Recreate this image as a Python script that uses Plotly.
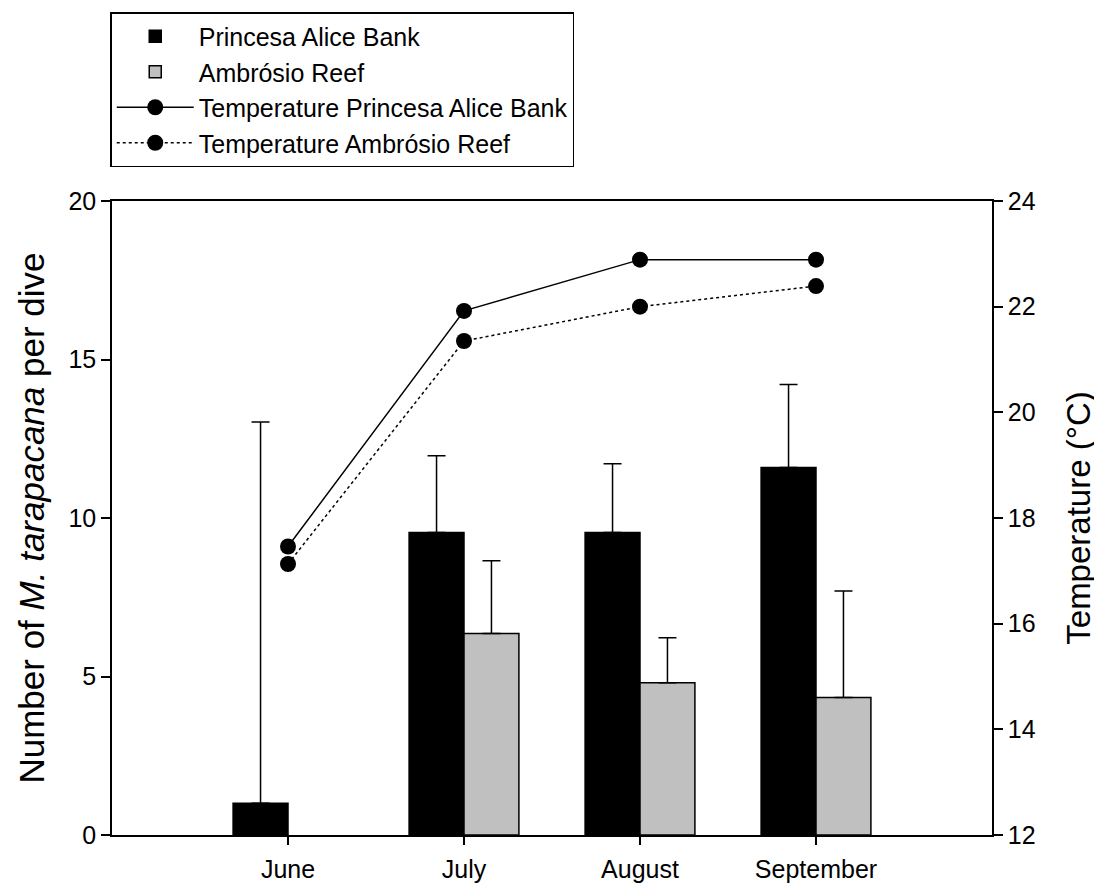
import plotly.graph_objects as go

months = ["June", "July", "August", "September"]

princesa_mean = [1.0, 9.54, 9.54, 11.59]
princesa_se = [12.03, 2.42, 2.17, 2.62]
ambrosio_mean = [None, 6.36, 4.80, 4.34]
ambrosio_se = [None, 2.29, 1.42, 3.36]

temp_princesa = [17.46, 21.92, 22.89, 22.89]
temp_ambrosio = [17.13, 21.35, 22.00, 22.39]

FONT = "Liberation Sans, Arial, sans-serif"

fig = go.Figure()

fig.add_trace(go.Bar(
    x=months, y=princesa_mean, name="Princesa Alice Bank",
    marker=dict(color="black", line=dict(color="black", width=1.5)),
    error_y=dict(type="data", array=princesa_se, arrayminus=[0]*4, symmetric=False,
                 color="black", thickness=1.5, width=9),
))
fig.add_trace(go.Bar(
    x=months, y=ambrosio_mean, name="Ambrósio Reef",
    marker=dict(color="#c0c0c0", line=dict(color="black", width=1.5)),
    error_y=dict(type="data", array=ambrosio_se, arrayminus=[0]*4, symmetric=False,
                 color="black", thickness=1.5, width=9),
))
fig.add_trace(go.Scatter(
    x=months, y=temp_princesa, name="Temperature Princesa Alice Bank", yaxis="y2",
    mode="lines+markers", line=dict(color="black", width=1.5),
    marker=dict(color="black", size=16),
))
fig.add_trace(go.Scatter(
    x=months, y=temp_ambrosio, name="Temperature Ambrósio Reef", yaxis="y2",
    mode="lines+markers", line=dict(color="black", width=1.5, dash="dot"),
    marker=dict(color="black", size=16),
))

W, H = 1094, 879
fig.update_layout(
    width=W, height=H,
    margin=dict(l=104, r=110, t=193, b=52, autoexpand=False),
    paper_bgcolor="white", plot_bgcolor="white",
    font=dict(family=FONT, size=25, color="black"),
    barmode="group", bargap=0.376, bargroupgap=0,
    showlegend=True,
    legend=dict(
        x=-0.002, y=1 - 4 / H, xref="paper", yref="container", xanchor="left", yanchor="top",
        bordercolor="black", borderwidth=1.5, bgcolor="white",
        font=dict(family=FONT, size=25, color="black"),
        traceorder="normal", itemwidth=77,
    ),
    xaxis=dict(
        type="category", range=[-1, 4], showline=True, linecolor="black", linewidth=1.5,
        mirror=True, ticks="outside", ticklen=8, tickwidth=1.5, tickcolor="black",
        showgrid=False, zeroline=False, tickfont=dict(size=25), ticklabelstandoff=3,
        automargin=False,
    ),
    yaxis=dict(
        range=[0, 20], tickvals=[0, 5, 10, 15, 20], showline=True, linecolor="black",
        linewidth=1.5, ticks="outside", ticklen=9, tickwidth=1.5, tickcolor="black",
        showgrid=False, zeroline=False, tickfont=dict(size=25), automargin=False,
        title=dict(text="Number of <i>M. tarapacana</i> per dive", font=dict(size=35), standoff=13),
    ),
    yaxis2=dict(
        range=[12, 24], tickvals=[12, 14, 16, 18, 20, 22, 24], overlaying="y", side="right",
        showline=True, linecolor="black", linewidth=1.5, ticks="outside", ticklen=9,
        tickwidth=1.5, tickcolor="black", showgrid=False, zeroline=False,
        tickfont=dict(size=25), automargin=False,
        title=dict(text="Temperature (°C)", font=dict(size=33), standoff=32),
    ),
)

fig.write_html("out.html")
